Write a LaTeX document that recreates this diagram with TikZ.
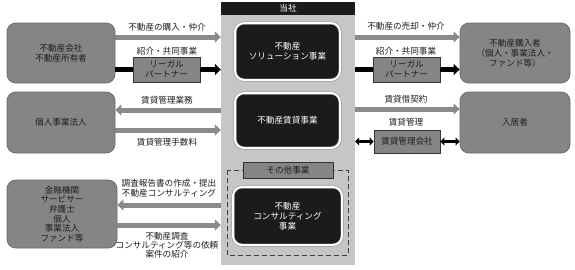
\documentclass[tikz,border=0pt]{standalone}
\usepackage{fontspec}
\newfontfamily\cjk{Noto Sans CJK JP}
\usetikzlibrary{arrows.meta}
\definecolor{boxg}{HTML}{858585}
\definecolor{boxgd}{HTML}{6A6A6A}
\definecolor{colg}{HTML}{C6C6C6}
\definecolor{arrg}{HTML}{8A8A8A}
\definecolor{blk}{HTML}{1B1B1B}
\definecolor{txt}{HTML}{1E1E1E}
\tikzset{
  gbox/.style={rounded corners=9pt, fill=boxg, draw=boxgd, line width=0.8pt, align=center, text=txt, inner sep=0pt},
  bbox/.style={rounded corners=9pt, fill=blk, draw=arrg, double=white, double distance=2pt, line width=0.5pt, align=center, text=white, inner sep=0pt},
  pbox/.style={fill=boxg, draw=black!80, line width=0.7pt, align=center, text=txt, inner sep=0pt},
  lbl/.style={align=center, text=txt, inner sep=0pt},
  garrow/.style={draw=arrg, line width=5pt, -{Triangle[length=6pt,width=11pt]}},
  gline/.style={draw=arrg, line width=5pt},
  barrow/.style={draw=black, line width=5pt, -{Triangle[length=6pt,width=11pt]}},
  bline/.style={draw=black, line width=5pt},
  darrow/.style={draw=black, line width=2.5pt, {Triangle[length=4pt,width=8pt]}-{Triangle[length=4pt,width=8pt]}},
}
\begin{document}
\begin{tikzpicture}[x=1pt,y=-1pt, font=\cjk\fontsize{8.6}{10}\selectfont]
\useasboundingbox[fill=white] (0,0) rectangle (575,269);
% centre column
\node[fill=colg, minimum width=134pt, minimum height=250pt, inner sep=0pt] (col) at (288,140) {};
\node[fill=blk, text=white, minimum width=134pt, minimum height=13pt, inner sep=0pt] (hdr) at (288,8.5) {当社};
\draw[dashed, dash pattern=on 5pt off 3pt, draw=black!75, line width=1pt] (227,170) rectangle (348,255);
\node[pbox, minimum width=90pt, minimum height=16pt] (other) at (288,170) {その他事業};
\node[bbox, minimum width=105pt, minimum height=57pt] (sol) at (287.5,51.5) {不動産\\ソリューション事業};
\node[bbox, minimum width=105pt, minimum height=55pt] (rent) at (287.5,120.5) {不動産賃貸事業};
\node[bbox, minimum width=109pt, minimum height=58pt] (cons) at (287.5,216) {不動産\\コンサルティング\\事業};
% left boxes
\node[gbox, minimum width=108pt, minimum height=60pt] (A) at (61,53) {不動産会社\\不動産所有者};
\node[gbox, minimum width=108pt, minimum height=61pt] (B) at (61,122.5) {個人事業法人};
\node[gbox, minimum width=110pt, minimum height=68pt, font=\cjk\fontsize{8.6}{9.6}\selectfont] (C) at (62,214) {金融機関\\サービサー\\弁護士\\個人\\事業法人\\ファンド等};
% right boxes
\node[gbox, minimum width=110pt, minimum height=60pt] (D) at (515,53) {不動産購入者\\（個人・事業法人・\\ファンド等）};
\node[gbox, minimum width=110pt, minimum height=61pt] (E) at (515,122.5) {入居者};
% partner boxes
\node[pbox, minimum width=67pt, minimum height=25pt] (lp1) at (166.5,69.5) {リーガル\\パートナー};
\node[pbox, minimum width=67pt, minimum height=25pt] (lp2) at (406.5,69.5) {リーガル\\パートナー};
\node[pbox, minimum width=66pt, minimum height=23pt] (rm) at (407,141.5) {賃貸管理会社};
% arrows row 1
\draw[garrow] (A.east |- 0,37) -- (col.west |- 0,37);
\draw[bline] (A.east |- lp1.west) -- (lp1.west);
\draw[barrow] (lp1.east) -- (col.west |- lp1.east);
\draw[garrow] (col.east |- 0,37) -- (D.west |- 0,37);
\draw[bline] (col.east |- lp2.west) -- (lp2.west);
\draw[barrow] (lp2.east) -- (D.west |- lp2.east);
\node[lbl] (t1) at (167,27) {不動産の購入・仲介};
\node[lbl] (t2) at (167,51) {紹介・共同事業};
\node[lbl] (t3) at (406,26) {不動産の売却・仲介};
\node[lbl] (t4) at (406,51) {紹介・共同事業};
% row 2
\draw[garrow] (col.west |- 0,110) -- (B.east |- 0,110);
\draw[garrow] (B.east |- 0,130) -- (col.west |- 0,130);
\draw[garrow] (col.east |- 0,109) -- (E.west |- 0,109);
\draw[darrow] (col.east |- rm.west) -- (rm.west);
\draw[darrow] (rm.east) -- (E.west |- rm.east);
\node[lbl] (t5) at (167,100) {賃貸管理業務};
\node[lbl] (t6) at (167,142) {賃貸管理手数料};
\node[lbl] (t7) at (406,99) {賃貸借契約};
\node[lbl] (t8) at (406,122) {賃貸管理};
% row 3
\draw[garrow] (col.west |- 0,205) -- (C.east |- 0,205);
\draw[garrow] (C.east |- 0,225) -- (col.west |- 0,225);
\node[lbl] (t9) at (169,188) {調査報告書の作成・提出\\不動産コンサルティング};
\node[lbl, font=\cjk\fontsize{8.6}{9.2}\selectfont] (t10) at (167,245) {不動産調査\\コンサルティング等の依頼\\案件の紹介};
\end{tikzpicture}
\end{document}
